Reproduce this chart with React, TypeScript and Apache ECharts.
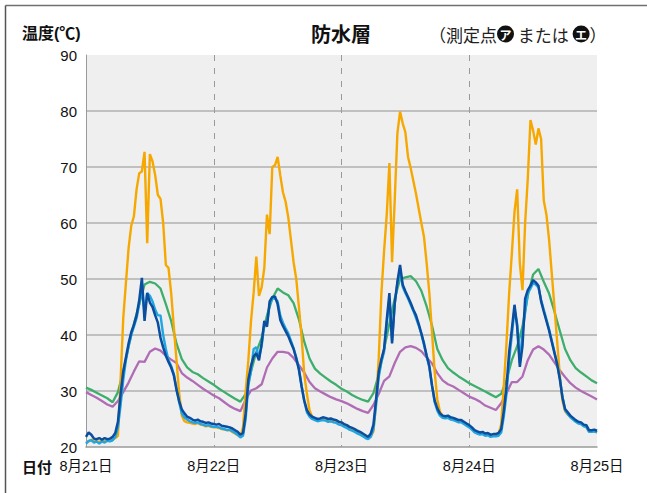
import React, { useEffect, useRef } from 'react';
import * as echarts from 'echarts';

const title = '防水層';
const yTitle = '温度(℃)';
const xTitle = '日付';
const dateLabels = ['8月21日', '8月22日', '8月23日', '8月24日', '8月25日'];
const yMin = 20;
const yMax = 90;
const yStep = 10;

// hourly samples (hour 0 .. 96)
const greenHourly = [
  30.6, 30.2, 29.7, 29.2, 28.7, 28.0, 29.8, 33.5, 38, 42, 45.5, 49,
  49.5, 49.2, 48.3, 45.5, 42.5, 38.5, 35.7, 34.2, 33.4, 33.0, 32.3, 31.7,
  31.1, 30.4, 29.8, 29.2, 28.6, 28.1, 29.5, 33.5, 37, 39.5, 43.5, 46.5,
  48.3, 47.6, 47.1, 45.7, 42.8, 38.8, 35.8, 34.0, 33.1, 32.4, 31.7, 31.1,
  30.4, 29.9, 29.3, 28.8, 28.4, 28.1, 29.6, 33, 37.5, 42, 46.5, 50,
  50.3, 50.5, 49.6, 47.9, 45.1, 41.7, 37.5, 35.5, 34.1, 33.3, 32.6, 32,
  31.4, 30.9, 30.4, 29.9, 29.4, 28.9, 29.5, 32, 35.5, 38, 41.5, 47,
  50.8, 51.8, 49.5, 47.4, 44.2, 40.8, 37.5, 35.5, 34.1, 33.3, 32.6, 31.9, 31.4,
];
const purpleHourly = [
  29.8, 29.3, 28.8, 28.2, 27.6, 27.2, 28.2, 29.8, 31.5, 33.5, 35.3, 35.2,
  37, 37.6, 37.2, 36.3, 35.6, 35.0, 33.2, 32.4, 31.8, 31.1, 30.4, 29.8,
  29.2, 28.7, 28.0, 27.3, 26.8, 26.4, 28.5, 30.1, 30.5, 31.2, 34.2, 35.8,
  37, 37, 36.8, 35.9, 34.6, 33.3, 31.6, 30.5, 29.9, 29.4, 28.9, 28.5,
  28.2, 27.8, 27.3, 26.8, 26.4, 26.1, 27.5, 29.5, 31.8, 32.6, 35, 37,
  37.8, 38, 37.7, 37.1, 36, 34.9, 33.2, 31.9, 31.2, 30.8, 30.2, 29.6,
  29, 28.6, 28.1, 27.4, 27, 26.6, 27.8, 29.6, 31.6, 31.6, 32.6, 35.5,
  37.4, 38, 37.4, 36.5, 35.1, 33.7, 32.5, 31.4, 30.6, 30, 29.5, 29, 28.5,
];

// half-hourly samples (hour 0, 0.5, ... 96)
const orangeHalf = [
  20.8, 21.0, 21.3, 21.1, 21.0, 20.9, 21.2, 21.1, 21.3, 21.2, 21.3, 21.6, 22, 32, 43, 49.3, 55.5, 59.5, 61.2, 66, 68.9, 69.2, 72.7, 56.4,
  72.3, 71, 68.5, 65, 64.3, 60, 52.5, 52, 47.5, 41.4, 35.5, 29.6, 25.6, 24.6, 24.4, 24.3, 24.2, 24.1, 24.3, 24.0, 23.9, 23.7, 23.8, 23.6,
  23.5, 23.5, 23.4, 23.2, 23.1, 23.0, 23.0, 22.7, 22.4, 22.1, 21.8, 23.5, 30, 35.5, 42.5, 47.6, 54, 47, 48.5, 52, 61.5, 58, 70, 70.3,
  71.8, 68.5, 65.5, 63.8, 61, 57, 53, 50, 45, 39.7, 33, 29.5, 26.5, 25.4, 25.0, 24.8, 24.9, 25.0, 24.9, 24.7, 24.8, 24.6, 24.5, 24.2,
  24.1, 23.8, 23.6, 23.3, 23.1, 22.9, 22.6, 22.4, 22.1, 21.9, 21.7, 21.9, 22.8, 28, 36, 47.5, 55, 61.5, 70.7, 53, 64.1, 76, 79.9, 77.8,
  76.2, 71.8, 69.8, 67.5, 65.2, 62.6, 60, 57.5, 52.8, 47.5, 40.5, 33.5, 28.5, 26.3, 25.6, 25.3, 25.3, 25.1, 24.9, 24.8, 24.6, 24.6, 24.3, 24.0,
  23.7, 23.3, 22.8, 22.6, 22.4, 22.5, 22.2, 22.3, 22.0, 22.1, 22.1, 22.3, 24, 31, 38.6, 47.5, 54.5, 62, 66, 52.8, 48, 60, 68, 78.4,
  76.5, 74, 76.9, 75, 64, 61.5, 57, 51, 45.1, 39, 33, 28.3, 26.4, 25.8, 25.4, 25.0, 24.6, 24.3, 24.1, 23.8, 23.5, 22.8, 22.7, 22.8,
  22.6,
];
const darkBlueHalf = [
  21.8, 22.6, 22.2, 21.5, 21.4, 21.6, 21.3, 21.6, 21.4, 21.5, 21.8, 22.5, 24.5, 29.5, 33.5, 36, 38.5, 40.5, 41.8, 43.5, 46.2, 50.2, 42.5, 47.5,
  45.8, 45, 43.5, 42.2, 39.5, 37.8, 36.3, 35.2, 34.2, 32.8, 30.2, 28.2, 26.7, 26.0, 25.4, 25.2, 24.9, 24.7, 24.9, 24.6, 24.5, 24.3, 24.4, 24.2,
  24.1, 24, 24.1, 23.8, 23.7, 23.6, 23.5, 23.3, 23.0, 22.7, 22.2, 22.5, 26, 32, 34.5, 36.2, 36.7, 35.5, 38.5, 42.5, 41.5, 46, 46.8, 46.9,
  45.5, 42.7, 41.6, 40.7, 39.8, 38.6, 37.5, 35.8, 33.8, 30.8, 28.3, 26.6, 25.8, 25.4, 25.2, 25.0, 25.1, 25.3, 25.2, 25.0, 25.1, 24.9, 24.8, 24.5,
  24.4, 24.1, 23.9, 23.6, 23.4, 23.2, 22.9, 22.7, 22.4, 22.1, 21.8, 22.4, 24, 28.5, 33.5, 35.7, 37.5, 42.7, 47.5, 38.5, 45.7, 49.5, 52.5, 49,
  47.8, 46.8, 45.7, 44.5, 43.5, 42, 40.3, 38.5, 36.3, 34.5, 31, 28.3, 26.9, 26.0, 25.6, 25.5, 25.6, 25.3, 25.2, 25.0, 24.8, 24.8, 24.5, 24.2,
  23.9, 23.5, 23.0, 22.8, 22.6, 22.7, 22.4, 22.5, 22.2, 22.3, 22.3, 22.5, 23.2, 26.5, 30.8, 37, 41, 45.4, 41.5, 34.3, 38, 46.5, 48, 48.8,
  49.8, 49.4, 48.8, 46, 44.2, 42.5, 40.8, 38.8, 36.8, 34.8, 32.2, 28.9, 26.8, 26.2, 25.6, 25.2, 24.8, 24.5, 24.4, 24.0, 23.9, 23.0, 23.0, 23.1,
  22.9,
];
const lightBlueHalf = [
  20.6, 21.1, 21.2, 20.8, 21.0, 20.6, 21.0, 20.8, 21.1, 21.0, 21.2, 21.8, 23.5, 27.5, 32, 35.5, 38, 40, 41.5, 43, 45.5, 48.5, 44, 47.5,
  47, 46, 44.5, 43.5, 43.5, 40, 37.5, 35.5, 34.5, 33, 30.5, 28, 26, 25.3, 24.9, 24.6, 24.4, 24.3, 24.4, 24.1, 24.0, 23.8, 23.9, 23.7,
  23.6, 23.6, 23.5, 23.3, 23.2, 23.0, 23.1, 22.8, 22.5, 22.2, 21.7, 22.0, 25, 31, 33.5, 37.5, 37.8, 36, 38, 42, 42, 45.5, 46.5, 46.5,
  46, 43.5, 42.2, 41.2, 40.3, 39, 37.6, 36, 34, 31, 28.2, 26.2, 25.4, 25.0, 24.8, 24.6, 24.7, 24.8, 24.7, 24.5, 24.6, 24.4, 24.3, 24.0,
  23.9, 23.6, 23.4, 23.1, 22.9, 22.7, 22.4, 22.2, 21.9, 21.6, 21.4, 21.8, 23.2, 27.5, 32.5, 35.2, 37, 42, 46.5, 39, 45.5, 49.2, 51.5, 48.6,
  47.5, 46.5, 45.4, 44.3, 43, 41.7, 40.2, 38.2, 36.2, 34.2, 31, 28, 26.5, 25.6, 25.2, 25.1, 25.2, 24.9, 24.8, 24.6, 24.4, 24.4, 24.1, 23.8,
  23.5, 23.1, 22.6, 22.4, 22.2, 22.3, 22.0, 22.1, 21.8, 21.9, 21.9, 22.0, 22.6, 25.5, 29.5, 35.5, 40, 44.5, 42, 35, 40.4, 44, 47.5, 48.3,
  49.3, 49, 48.5, 46.3, 44.5, 42.8, 41, 39, 37, 35, 32.4, 29, 26.6, 25.9, 25.3, 24.9, 24.5, 24.2, 24.1, 23.7, 23.6, 22.7, 22.7, 22.8,
  22.6,
];

const FONT = "'Liberation Sans', 'Noto Sans CJK JP', sans-serif";
const JFONT = "'Noto Sans CJK JP', sans-serif";

const toPairs = (arr: number[], step: number) => arr.map((v, i) => [i * step, v]);

export default function App() {
  const ref = useRef<HTMLDivElement>(null);
  useEffect(() => {
    if (!ref.current) return;
    const chart = echarts.init(ref.current, null, { renderer: 'svg' });
    const mkLine = (name: string, data: number[][], color: string, width: number) => ({
      name,
      type: 'line',
      data,
      showSymbol: false,
      symbol: 'none',
      lineStyle: { color, width },
      itemStyle: { color },
      emphasis: { disabled: true },
    });
    chart.setOption({
      animation: false,
      backgroundColor: '#ffffff',
      grid: {
        left: 86,
        right: 50,
        top: 55,
        bottom: 46,
        show: true,
        backgroundColor: '#efefef',
        borderWidth: 0,
        outerBoundsMode: 'none',
      },
      xAxis: {
        type: 'value',
        min: 0,
        max: 96,
        interval: 24,
        axisLine: { show: true, lineStyle: { color: '#9a9a9a', width: 1.5 } },
        axisTick: { show: false },
        axisLabel: {
          formatter: (v: number) => dateLabels[Math.round(v / 24)] ?? '',
          color: '#111',
          fontSize: 14.5,
          fontFamily: FONT,
          margin: 12,
          showMinLabel: true,
          showMaxLabel: true,
        },
        splitLine: {
          show: true,
          showMinLine: false,
          showMaxLine: false,
          lineStyle: { color: '#9a9a9a', width: 1, type: [6, 7] },
        },
      },
      yAxis: {
        type: 'value',
        min: yMin,
        max: yMax,
        interval: yStep,
        axisLine: { show: true, lineStyle: { color: '#9a9a9a', width: 1 } },
        axisTick: { show: false },
        axisLabel: { color: '#111', fontSize: 15, fontFamily: FONT, margin: 9 },
        splitLine: {
          show: true,
          showMinLine: false,
          showMaxLine: false,
          lineStyle: { color: '#b0b0b0', width: 1.5 },
        },
      },
      graphic: [
        { type: 'line', shape: { x1: 5.5, y1: 5.5, x2: 647, y2: 5.5 }, style: { stroke: '#707070', lineWidth: 1.5 }, silent: true },
        { type: 'line', shape: { x1: 5.5, y1: 5.5, x2: 5.5, y2: 493 }, style: { stroke: '#555555', lineWidth: 1.5 }, silent: true },
        {
          type: 'text', x: 22, y: 33,
          style: { text: yTitle, fontSize: 16, fontWeight: 'bold', fontFamily: FONT, fill: '#111', textAlign: 'left', textVerticalAlign: 'middle' },
        },
        {
          type: 'text', x: 341, y: 33,
          style: { text: title, fontSize: 20, fontWeight: 'bold', fontFamily: JFONT, fill: '#111', textAlign: 'center', textVerticalAlign: 'middle' },
        },
        {
          type: 'text', x: 429, y: 34,
          style: {
            text: '（測定点{c|ア} または {c|エ}）',
            fontSize: 17, fontFamily: JFONT, fill: '#222', textAlign: 'left', textVerticalAlign: 'middle',
            rich: {
              c: {
                backgroundColor: '#111', fill: '#fff', color: '#fff', borderRadius: 9,
                width: 17, height: 17, lineHeight: 17, align: 'center', verticalAlign: 'middle',
                fontSize: 12, fontWeight: 'bold', fontFamily: JFONT,
              },
            },
          },
        },
        {
          type: 'text', x: 22, y: 466,
          style: { text: xTitle, fontSize: 15, fontWeight: 'bold', fontFamily: JFONT, fill: '#111', textAlign: 'left', textVerticalAlign: 'middle' },
        },
      ],
      series: [
        mkLine('purple', toPairs(purpleHourly, 1), '#b06cb5', 2.3),
        mkLine('green', toPairs(greenHourly, 1), '#3dae6c', 2.3),
        mkLine('orange', toPairs(orangeHalf, 0.5), '#f6a800', 2.4),
        mkLine('lightblue', toPairs(lightBlueHalf, 0.5), '#1fa6e3', 2.4),
        mkLine('darkblue', toPairs(darkBlueHalf, 0.5), '#0b4d9f', 2.5),
      ],
    });
    return () => chart.dispose();
  }, []);
  return (
    <div
      ref={ref}
      style={{ position: 'fixed', left: 0, top: 0, width: 647, height: 493, background: '#fff' }}
    />
  );
}
